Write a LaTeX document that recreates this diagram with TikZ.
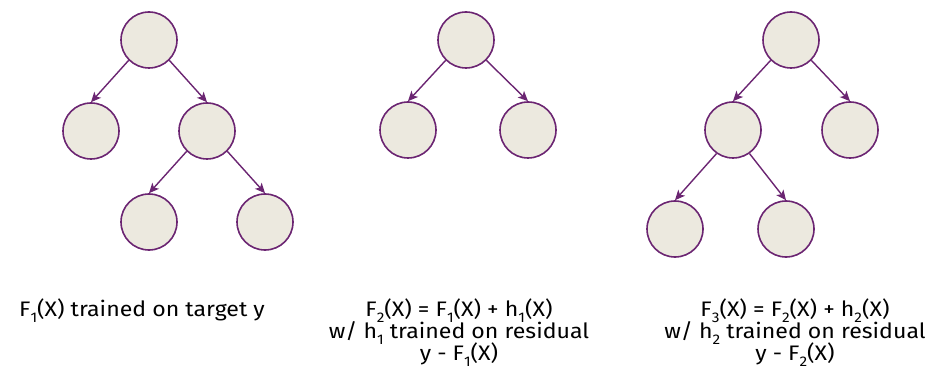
\documentclass[tikz,border=0pt]{standalone}
\usepackage{fontspec}
\setmainfont[FakeStretch=1.1]{Fira Sans}
\usetikzlibrary{arrows.meta, positioning}
\definecolor{treeline}{HTML}{6B2572}
\definecolor{treefill}{HTML}{ECE9DF}
\newcommand{\lo}[1]{\smash{\raisebox{-6pt}{\fontsize{14}{14}\selectfont #1}}}

\begin{document}
\begin{tikzpicture}[x=1pt, y=-1pt,
    leaf/.style={circle, draw=treeline, fill=treefill, line width=1.6pt, minimum size=56pt, inner sep=0pt},
    edge/.style={-{Stealth[length=10pt, width=9pt, inset=2.5pt]}, draw=treeline, line width=1.4pt},
    caption/.style={align=center, anchor=north, inner sep=0pt, font=\fontsize{21}{22}\selectfont}]
    \useasboundingbox (0,0) rectangle (933,387);

    % Tree 1
    \node[leaf] (a0) at (149, 40) {};
    \node[leaf] (a1) at (91, 131) {};
    \node[leaf] (a2) at (207, 131) {};
    \node[leaf] (a3) at (149, 222) {};
    \node[leaf] (a4) at (265, 222) {};
    \draw[edge] (a0.225) -- (a1.north);
    \draw[edge] (a0.-45) -- (a2.north);
    \draw[edge] (a2.225) -- (a3.north);
    \draw[edge] (a2.-45) -- (a4.north);

    % Tree 2
    \node[leaf] (b0) at (466, 40) {};
    \node[leaf] (b1) at (408, 130) {};
    \node[leaf] (b2) at (528, 130) {};
    \draw[edge] (b0.225) -- (b1.north);
    \draw[edge] (b0.-45) -- (b2.north);

    % Tree 3
    \node[leaf] (c0) at (791, 40) {};
    \node[leaf] (c1) at (733, 130) {};
    \node[leaf] (c2) at (850, 130) {};
    \node[leaf] (c3) at (675, 229) {};
    \node[leaf] (c4) at (786, 229) {};
    \draw[edge] (c0.225) -- (c1.north);
    \draw[edge] (c0.-45) -- (c2.north);
    \draw[edge] (c1.235) -- (c3.north);
    \draw[edge] (c1.-55) -- (c4.north);

    % Captions
    \node[caption] (capa) at (142, 299) {F\lo{1}(X) trained on target y};
    \node[caption] (capb) at (459, 299) {F\lo{2}(X) = F\lo{1}(X) + h\lo{1}(X)\\w/ h\lo{1} trained on residual\\y - F\lo{1}(X)};
    \node[caption] (capc) at (795, 299) {F\lo{3}(X) = F\lo{2}(X) + h\lo{2}(X)\\w/ h\lo{2} trained on residual\\y - F\lo{2}(X)};
\end{tikzpicture}
\end{document}
